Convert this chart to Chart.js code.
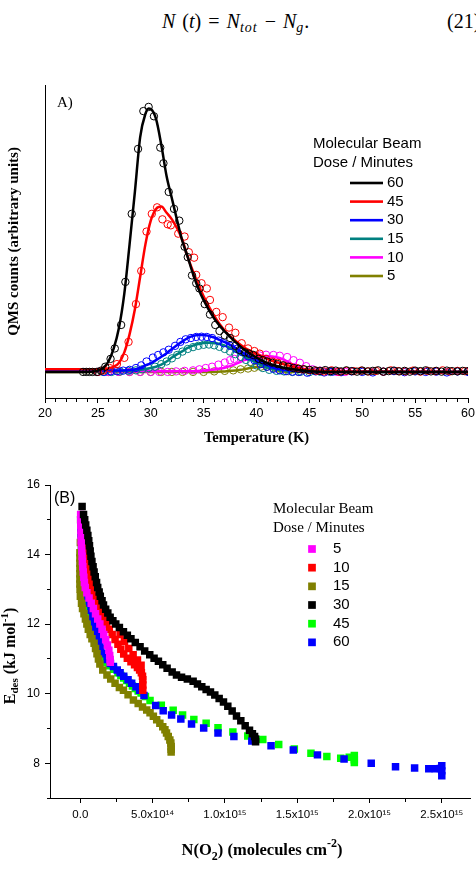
<!DOCTYPE html>
<html>
<head>
<meta charset="utf-8">
<title>O2 desorption from the molecular beam doses</title>
<script src="https://cdn.jsdelivr.net/npm/chart.js"></script>
<style>
  html, body { margin: 0; padding: 0; background: #fff; }
  body { width: 476px; height: 870px; position: relative; overflow: hidden; }
  #eq { position: absolute; left: 162px; top: 11px; font: italic 20px "Liberation Serif", "Times New Roman", serif;
        line-height: 20px; word-spacing: 2px; white-space: nowrap; }
  #eq .up { font-style: normal; }
  #eq sub { font-size: 14px; letter-spacing: 1px; vertical-align: -4px; line-height: 0; }
  #eqnum { position: absolute; left: 447px; top: 11px; font: 20px "Liberation Serif", "Times New Roman", serif; line-height: 20px; white-space: nowrap; }
  canvas { position: absolute; left: 0; }
  #chartA { top: 55px; }
  #chartB { top: 455px; }
</style>
</head>
<body>
<div id="eq"><i>N</i> <span class="up">(</span><i>t</i><span class="up">) = </span><i>N</i><sub>tot</sub> <span class="up">&minus;</span> <i>N</i><sub>g</sub><span class="up">.</span></div>
<div id="eqnum">(21)</div>
<canvas id="chartA" width="476" height="400"></canvas>
<canvas id="chartB" width="476" height="415"></canvas>

<script>
// ---------- panel A : QMS counts vs temperature (circles = data, lines = fits)
const dosesA = ['60', '45', '30', '15', '10', '5'];
const colorsA = ['#000000', '#ff0000', '#0000ff', '#008080', '#ff00ff', '#808000'];

// measured points (K, arbitrary units)
const t60 = [23.6,23.9,24.2,24.5,24.9,25.3,25.7,26.2,26.6,27.2,27.6,28.2,28.8,29.3,29.8,30.3,30.9,31.2,31.7,32.2,32.7,33.2,33.5,33.9,34.3,34.6,35.1,35.6,36.1,36.5,37.0,37.5,38.0,38.4,38.9,39.3,39.7,40.2,40.6,41.0,41.5,42.0,42.5,43.0,43.5,44.0,44.5,45.0,
  45.5,46.0,46.5,47.0,47.5,48.0,48.5,49.0,49.5,50.0,50.5,51.0,51.5,52.0,52.5,53.0,53.5,54.0,54.5,55.0,55.5,56.0,56.5,57.0,57.5,58.0,58.5,59.0,59.5,60.0];
const c60 = [0,0,0,0,0,0.005,0.02,0.05,0.09,0.18,0.345,0.606,0.855,1.0,1.016,0.98,0.86,0.80,0.69,0.625,0.58,0.48,0.44,0.37,0.34,0.32,0.26,0.22,0.18,0.157,0.14,0.13,0.10,0.084,0.075,0.07,0.065,0.05,0.045,0.04,0.035,0.03,0.025,0.02,0.015,0.012,0.01,0.008,
  0.006,0.004,0.007,0.003,0.005,0.002,0.006,0.003,0.001,0.005,0.002,0.004,0.006,0.001,0.003,0.005,0.002,0.004,0.001,0.005,0.003,0.006,0.002,0.004,0.001,0.005,0.003,0.002,0.004,0.003];

const t45 = [25.0,25.5,26.1,26.8,27.5,27.9,28.6,29.1,29.6,30.1,30.6,31.1,31.6,31.9,32.6,33.2,33.6,34.1,34.3,34.8,35.3,35.6,36.2,36.8,37.4,38.0,38.6,39.2,39.8,40.3,40.9,41.5,42.0,42.6,43.2,43.8,44.4,45.0,
  45.7,46.4,47.1,47.8,48.5,49.2,49.9,50.6,51.3,52.0,52.7,53.4,54.1,54.8,55.5,56.2,56.9,57.6,58.3,59.0,59.7];
const c45 = [0.0,0.005,0.015,0.03,0.054,0.115,0.26,0.387,0.538,0.606,0.631,0.585,0.566,0.562,0.53,0.519,0.459,0.438,0.372,0.34,0.32,0.276,0.23,0.21,0.17,0.15,0.11,0.09,0.08,0.07,0.05,0.04,0.035,0.025,0.02,0.015,0.01,0.006,
  0.004,0.002,0.006,0.001,0.004,0.003,0.005,0.002,0.004,0.001,0.006,0.003,0.002,0.005,0.001,0.004,0.003,0.006,0.002,0.004,0.003];

const t30 = [25.0,25.6,26.2,26.8,27.4,28.0,28.6,29.1,29.6,30.2,30.7,31.2,31.7,32.3,32.8,33.3,33.8,34.3,34.8,35.3,35.8,36.4,36.9,37.5,38.1,38.6,39.2,39.8,40.4,41.0,41.6,42.2,42.8,43.4,44.0,44.8,45.6,46.4,47.2,48.0,49,50,51,52,53,54,55,56,57,58,59,60];
const c30 = [0,0,0.002,0.003,0.005,0.008,0.015,0.025,0.04,0.055,0.065,0.075,0.085,0.1,0.115,0.125,0.13,0.134,0.135,0.134,0.13,0.12,0.11,0.10,0.088,0.077,0.06,0.045,0.03,0.02,0.012,0.006,0.003,0.001,0,-0.003,0.002,-0.002,0.001,-0.001,0.002,0,-0.002,0.001,0.003,-0.001,0.002,0,0.001,-0.002,0.002,0];

const t15 = [25.5,26.3,27.1,27.9,28.6,29.2,29.8,30.4,31.0,31.5,32.0,32.5,33.0,33.5,34.0,34.5,35.0,35.5,36.0,36.5,37.0,37.5,38.0,38.5,39.0,39.5,40.0,40.6,41.2,41.9,42.6,43.4,44.2,45.0,46.0,47.0];
const c15 = [0,0,0.002,0.004,0.006,0.01,0.015,0.02,0.03,0.04,0.052,0.065,0.078,0.088,0.095,0.1,0.104,0.105,0.102,0.096,0.088,0.078,0.068,0.058,0.046,0.035,0.025,0.015,0.008,0.004,0.002,0,0.001,-0.001,0.001,0];

const t10 = [26.0,27.0,28.0,29.0,30.0,30.8,31.6,32.4,33.2,34.0,34.6,35.2,35.8,36.4,37.0,37.5,37.9,38.6,39.1,39.7,40.3,40.9,41.6,42.2,42.9,43.5,44.1,44.7,45.3,46.0,46.8,47.6,48.4];
const c10 = [0,0,0,0,0,0,0,0.002,0.004,0.006,0.01,0.015,0.02,0.028,0.036,0.045,0.05,0.055,0.058,0.06,0.063,0.066,0.065,0.062,0.057,0.045,0.035,0.022,0.01,0.005,0.002,0,0];

const t5 = [26.0,27.0,28.0,29.0,30.0,31.0,32.0,33.0,34.0,35.0,36.0,37.0,37.8,38.5,39.2,39.8,40.4,41.0,41.6,42.2,43.0,44.0];
const c5 = [0,0,0,0,0,0,0,0,0,0,0.002,0.004,0.006,0.01,0.013,0.016,0.02,0.02,0.015,0.008,0.003,0];

// fitted curves
const ft60 = [20,24,25,25.5,26,26.5,27,27.5,28,28.5,29,29.5,29.8,30,30.5,31,31.5,32,32.5,33,33.5,34,34.5,35,36,37,38,39,40,41,42,43,44,45,47,50,60];
const f60 = [0,0,0.005,0.015,0.04,0.09,0.17,0.3,0.49,0.69,0.9,0.99,1.01,1.008,0.97,0.87,0.75,0.665,0.58,0.5,0.44,0.375,0.32,0.275,0.205,0.155,0.115,0.08,0.055,0.035,0.022,0.013,0.007,0.003,0,0,0];
const ft45 = [20,25,26,26.5,27,27.5,28,28.5,29,29.5,30,30.5,31,31.5,32,32.5,33,33.5,34,34.5,35,36,37,38,39,40,41,42,43,44,45,46,48,60];
const f45 = [0.01,0.01,0.013,0.02,0.035,0.075,0.145,0.24,0.365,0.49,0.58,0.625,0.634,0.61,0.585,0.55,0.505,0.44,0.385,0.335,0.29,0.215,0.158,0.12,0.09,0.07,0.05,0.036,0.025,0.014,0.007,0.004,0.002,0];
const ft30 = [20,27,28.3,29,29.5,30,30.5,31,31.5,32,32.5,33,33.5,34,34.5,35,35.5,36,36.5,37,37.5,38,38.5,39,39.5,40,40.5,41,41.5,42,43,44,46,60];
const f30 = [0.005,0.005,0.008,0.015,0.025,0.033,0.045,0.058,0.072,0.088,0.103,0.117,0.13,0.138,0.142,0.142,0.138,0.132,0.123,0.114,0.104,0.092,0.079,0.067,0.055,0.044,0.035,0.026,0.018,0.012,0.006,0.003,0.001,0];
const ft15 = [20,28,29,29.5,30,30.5,31,31.5,32,32.5,33,33.5,34,34.5,35,35.5,36,36.5,37,37.5,38,38.5,39,39.5,40,40.5,41,41.5,42,43,45,60];
const f15 = [0.003,0.004,0.008,0.011,0.015,0.02,0.028,0.04,0.055,0.068,0.08,0.092,0.101,0.107,0.111,0.112,0.11,0.107,0.101,0.092,0.08,0.068,0.056,0.045,0.035,0.025,0.018,0.012,0.008,0.004,0.001,0];
const ft10 = [20,34,35,36,36.5,37,37.5,38,38.5,39,39.5,40,40.5,41,41.5,42,42.5,43,43.5,44,44.5,45,46,60];
const f10 = [0.003,0.003,0.005,0.009,0.012,0.016,0.022,0.03,0.039,0.047,0.053,0.058,0.061,0.061,0.059,0.055,0.048,0.038,0.027,0.018,0.011,0.006,0.002,0];
const ft5 = [20,36,37,38,38.5,39,39.5,40,40.5,41,41.5,42,42.5,43,60];
const f5 = [0,0,0.002,0.005,0.008,0.012,0.016,0.019,0.02,0.018,0.012,0.005,0.002,0,0];

// ---------- panel B : desorption energy vs coverage (N in units of 1e14 molecules cm-2)
const dosesB = ['5', '10', '15', '30', '45', '60'];
const colorsB = ['#ff00ff', '#ff0000', '#808000', '#000000', '#00ff00', '#0000ff'];

const n5 = [0.02,0.02,0.03,0.04,0.05,0.06,0.08,0.1,0.12,0.14,0.17,0.2,0.24,0.28,0.34,0.45,0.6,0.75,0.9,1.05,1.2,1.35,1.5,1.62,1.75,1.87,1.97,2.03,2.06,2.07];
const e5 = [15.15,15.0,14.85,14.7,14.55,14.4,14.25,14.1,13.95,13.8,13.65,13.5,13.35,13.2,13.05,12.9,12.75,12.6,12.45,12.3,12.15,12.0,11.85,11.7,11.55,11.4,11.25,11.1,10.98,10.9];

const n10 = [0.1,0.15,0.2,0.25,0.3,0.36,0.42,0.5,0.58,0.68,0.8,0.95,1.12,1.3,1.48,1.65,1.8,2.0,2.2,2.4,2.6,2.8,3.0,3.25,3.5,3.75,3.95,4.1,4.22,4.3,4.32,4.32,4.32,
  2.75,3.05,3.35,3.65,3.95,4.2];
const e10 = [15.0,14.8,14.6,14.4,14.2,14.0,13.8,13.6,13.4,13.2,13.0,12.8,12.63,12.47,12.3,12.15,12.0,11.85,11.7,11.56,11.42,11.28,11.14,11.02,10.92,10.83,10.75,10.68,10.6,10.5,10.4,10.25,10.1,
  11.7,11.5,11.3,11.12,10.97,10.82];

const n15 = [0.0,-0.03,-0.03,-0.03,-0.03,-0.03,-0.03,-0.03,-0.02,0.0,0.08,0.15,0.25,0.35,0.45,0.55,0.68,0.8,0.95,1.05,1.15,1.25,1.35,1.55,1.84,2.1,2.4,2.7,2.98,3.3,3.67,4.0,4.3,4.59,4.82,5.05,5.28,5.5,5.7,5.85,5.96,6.08,6.19,6.26,6.28,6.28,6.28];
const e15 = [14.35,14.05,13.9,13.75,13.6,13.45,13.3,13.15,13.0,12.8,12.6,12.45,12.3,12.15,12.0,11.85,11.7,11.58,11.45,11.3,11.15,11.0,10.85,10.68,10.54,10.42,10.3,10.18,10.1,9.97,9.82,9.72,9.62,9.53,9.45,9.35,9.25,9.15,9.05,8.96,8.87,8.77,8.67,8.58,8.48,8.4,8.32];

const n30 = [0.12,0.22,0.3,0.37,0.45,0.52,0.58,0.63,0.68,0.73,0.8,0.88,0.95,1.03,1.12,1.2,1.3,1.38,1.5,1.6,1.75,1.9,2.06,2.25,2.45,2.7,2.98,3.25,3.5,3.8,4.13,4.45,4.8,5.1,5.4,5.7,6.0,6.35,6.65,7.0,7.4,7.8,8.1,8.4,8.7,9.0,9.3,9.6,9.9,10.2,10.5,10.8,11.1,11.4,11.7,11.9,12.05,12.12,12.12];
const e30 = [15.38,15.15,15.0,14.85,14.7,14.55,14.4,14.25,14.1,13.95,13.8,13.65,13.5,13.36,13.2,13.05,12.92,12.8,12.67,12.55,12.43,12.32,12.2,12.1,12.0,11.9,11.78,11.68,11.58,11.47,11.35,11.23,11.12,11.02,10.93,10.83,10.73,10.62,10.54,10.47,10.42,10.36,10.28,10.2,10.12,10.05,9.96,9.86,9.76,9.64,9.5,9.36,9.22,9.08,8.95,8.85,8.77,8.7,8.62];

const n45 = [0.02,0.03,0.04,0.05,0.07,0.1,0.13,0.17,0.22,0.28,0.35,0.42,0.5,0.6,0.7,0.8,0.92,1.05,1.15,1.3,1.55,1.78,2.0,2.3,2.6,2.8,3.0,3.2,3.4,3.6,3.8,4.0,4.2,4.5,
  4.82,5.6,6.42,7.07,7.85,8.7,9.52,10.55,11.58,12.62,13.72,14.8,15.95,17.05,18.01,18.6,18.95,18.95,18.95];
const e45 = [15.0,14.8,14.6,14.4,14.2,14.0,13.8,13.6,13.4,13.2,13.0,12.8,12.6,12.4,12.2,12.0,11.8,11.6,11.4,11.2,11.0,10.9,10.8,10.7,10.6,10.52,10.45,10.38,10.3,10.22,10.15,10.08,10.02,9.92,
  9.8,9.67,9.52,9.39,9.26,9.15,9.02,8.9,8.78,8.68,8.54,8.41,8.29,8.19,8.14,8.17,8.22,8.1,8.02];

const n60 = [0.03,0.04,0.05,0.07,0.09,0.12,0.16,0.2,0.26,0.33,0.42,0.52,0.62,0.73,0.85,0.97,1.07,1.15,1.25,1.35,1.42,1.55,1.85,2.08,2.29,2.55,2.75,3.0,3.3,3.55,3.85,4.1,4.4,
  5.21,5.73,6.31,6.95,7.69,8.53,9.52,10.62,11.86,13.19,14.73,16.4,18.24,20.12,21.8,23.12,24.1,24.55,24.9,25.0,25.0,25.0];
const e60 = [15.0,14.8,14.6,14.4,14.2,14.0,13.8,13.6,13.4,13.2,13.0,12.8,12.6,12.4,12.2,12.0,11.85,11.74,11.6,11.45,11.3,11.15,10.98,10.87,10.78,10.68,10.6,10.5,10.4,10.3,10.2,10.1,9.95,
  9.66,9.51,9.39,9.27,9.13,9.01,8.87,8.77,8.64,8.5,8.38,8.24,8.12,8.0,7.9,7.86,7.84,7.84,7.85,7.93,7.78,7.64];

const serif = '"Liberation Serif", "Times New Roman", serif';
const sans = '"Liberation Sans", Arial, sans-serif';

Chart.defaults.color = '#000';
Chart.defaults.font.family = sans;

const pts = (xs, ys) => xs.map((x, i) => ({ x: x, y: ys[i] }));

function drawRich(ctx, r) {
  ctx.save();
  ctx.textAlign = 'left';
  ctx.textBaseline = 'alphabetic';
  let w = 0;
  r.parts.forEach(p => { ctx.font = p.font; w += ctx.measureText(p.text).width; });
  ctx.translate(r.x, r.y);
  if (r.rotate) ctx.rotate(-Math.PI / 2);
  let x = -w / 2;
  r.parts.forEach(p => {
    ctx.font = p.font;
    ctx.fillText(p.text, x, p.dy || 0);
    x += ctx.measureText(p.text).width;
  });
  ctx.restore();
}

// panel labels, in-plot legends and rich axis titles
const annotate = {
  id: 'annotate',
  afterDraw(chart, args, opts) {
    const ctx = chart.ctx;
    ctx.save();
    ctx.textBaseline = 'middle';
    ctx.textAlign = 'left';
    (opts.texts || []).forEach(t => {
      ctx.fillStyle = '#000';
      ctx.font = t.font;
      ctx.fillText(t.text, t.x, t.y);
    });
    const lg = opts.legend;
    if (lg) {
      lg.labels.forEach((lab, i) => {
        const y = lg.y + i * lg.step;
        ctx.fillStyle = lg.colors[i];
        if (lg.kind === 'line') ctx.fillRect(lg.x, y - 1.3, lg.w, 2.6);
        else ctx.fillRect(lg.x - lg.w / 2, y - lg.w / 2, lg.w, lg.w);
        ctx.fillStyle = '#000';
        ctx.font = lg.font;
        ctx.fillText(lab, lg.tx, y);
      });
    }
    ctx.fillStyle = '#000';
    (opts.rich || []).forEach(r => drawRich(ctx, r));
    ctx.restore();
  }
};

// ---------- chart A
const circlesA = [[t60, c60], [t45, c45], [t30, c30], [t15, c15], [t10, c10], [t5, c5]];
const fitsA = [[ft60, f60], [ft45, f45], [ft30, f30], [ft15, f15], [ft10, f10], [ft5, f5]];
const datasetsA = [];
dosesA.forEach((dose, i) => {
  datasetsA.push({
    label: dose + ' fit', data: pts(fitsA[i][0], fitsA[i][1]),
    showLine: true, pointRadius: 0, borderColor: colorsA[i], borderWidth: 2.5,
    cubicInterpolationMode: 'monotone', order: 2 * i
  });
  datasetsA.push({
    label: dose, data: pts(circlesA[i][0], circlesA[i][1]),
    showLine: false, pointRadius: 3.7, pointBorderWidth: 1,
    pointBorderColor: colorsA[i], pointBackgroundColor: 'rgba(0,0,0,0)', order: 2 * i + 1
  });
});

new Chart(document.getElementById('chartA'), {
  type: 'scatter',
  data: { datasets: datasetsA },
  options: {
    responsive: false, animation: false, events: [], devicePixelRatio: 1,
    layout: { padding: { left: 0, right: 8, top: 30, bottom: 0 } },
    scales: {
      x: {
        type: 'linear', min: 20, max: 60,
        afterFit(s) { s.height = 57; s.paddingLeft = 0; s.paddingRight = 0; },
        ticks: { stepSize: 1, autoSkip: false, maxRotation: 0, padding: 3, font: { size: 12.5 },
          callback: v => (v % 5 === 0 ? String(v) : '') },
        grid: { drawOnChartArea: false, tickLength: 5, tickColor: '#000', tickWidth: 1,
          tickBorderDash: c => (c.tick && c.tick.value % 5 !== 0 ? [3, 10] : []) },
        border: { display: true, color: '#000', width: 1 },
        title: { display: true, text: 'Temperature (K)', color: '#000',
          font: { family: serif, size: 14.5, weight: 'bold' }, padding: { top: 0, bottom: 8 } }
      },
      y: {
        type: 'linear', min: -0.1, max: 1.1,
        afterFit(s) { s.width = 45; s.paddingTop = 0; s.paddingBottom = 0; },
        ticks: { display: false },
        grid: { display: false },
        border: { display: true, color: '#000', width: 1 },
        title: { display: true, text: 'QMS counts (arbitrary units)', color: '#000',
          font: { family: serif, size: 15, weight: 'bold' }, padding: { top: 5, bottom: 0 } }
      }
    },
    plugins: {
      legend: { display: false },
      tooltip: { enabled: false },
      annotate: {
        texts: [
          { text: 'A)', x: 57, y: 48, font: '15px ' + serif },
          { text: 'Molecular Beam', x: 313, y: 89, font: '15px ' + sans },
          { text: 'Dose / Minutes', x: 313, y: 107.7, font: '15px ' + sans }
        ],
        legend: { kind: 'line', labels: dosesA, colors: colorsA, x: 350, w: 33, tx: 387, y: 128, step: 18.6, font: '15px ' + sans }
      }
    }
  },
  plugins: [annotate]
});

// ---------- chart B
const seriesB = [[n5, e5], [n10, e10], [n15, e15], [n30, e30], [n45, e45], [n60, e60]];
const drawOrderB = [2, 3, 4, 1, 6, 5];
const supDigits = { '0': '⁰', '1': '¹', '2': '²', '3': '³', '4': '⁴', '5': '⁵', '6': '⁶', '7': '⁷', '8': '⁸', '9': '⁹' };
function fmtN(v) {
  if (v % 5 !== 0) return '';
  if (v === 0) return '0.0';
  const n = v * 1e14;
  const e = Math.floor(Math.log10(n) + 1e-9);
  const m = n / Math.pow(10, e);
  return m.toFixed(1) + 'x10' + String(e).split('').map(d => supDigits[d]).join('');
}

new Chart(document.getElementById('chartB'), {
  type: 'scatter',
  data: {
    datasets: dosesB.map((dose, i) => ({
      label: dose, data: pts(seriesB[i][0], seriesB[i][1]),
      showLine: false, pointStyle: 'rect', pointRadius: 5.3, pointBorderWidth: 0,
      pointBackgroundColor: colorsB[i], pointBorderColor: colorsB[i], order: drawOrderB[i]
    }))
  },
  options: {
    responsive: false, animation: false, events: [], devicePixelRatio: 1,
    layout: { padding: { left: 0, right: 3, top: 30, bottom: 0 } },
    scales: {
      x: {
        type: 'linear', min: -2.1, max: 27,
        afterFit(s) { s.height = 72; s.paddingLeft = 0; s.paddingRight = 0; },
        ticks: { stepSize: 2.5, includeBounds: false, autoSkip: false, maxRotation: 0, padding: 5,
          font: { size: 11.5 }, callback: fmtN },
        grid: { drawOnChartArea: false, tickLength: 5, tickColor: '#000', tickWidth: 1,
          tickBorderDash: c => (c.tick && c.tick.value % 5 !== 0 ? [3, 10] : []) },
        border: { display: true, color: '#000', width: 1 },
        title: { display: false }
      },
      y: {
        type: 'linear', min: 7, max: 16,
        afterFit(s) { s.width = 50; s.paddingTop = 0; s.paddingBottom = 0; },
        ticks: { stepSize: 1, autoSkip: false, padding: 5, font: { size: 12 },
          callback: v => (v % 2 === 0 ? String(v) : '') },
        grid: { drawOnChartArea: false, tickLength: 5, tickColor: '#000', tickWidth: 1,
          tickBorderDash: c => (c.tick && c.tick.value % 2 !== 0 ? [0, 2, 3, 10] : []) },
        border: { display: true, color: '#000', width: 1 },
        title: { display: false }
      }
    },
    plugins: {
      legend: { display: false },
      tooltip: { enabled: false },
      annotate: {
        texts: [
          { text: '(B)', x: 54, y: 44, font: '16px ' + sans },
          { text: 'Molecular Beam', x: 273, y: 54.3, font: '15px ' + serif },
          { text: 'Dose / Minutes', x: 273, y: 73.3, font: '15px ' + serif }
        ],
        legend: { kind: 'square', labels: dosesB, colors: colorsB, x: 312, w: 7.7, tx: 333, y: 94, step: 18.67, font: '15px ' + sans },
        rich: [
          { x: 15, y: 201, rotate: true, parts: [
            { text: 'E', font: 'bold 16px ' + serif },
            { text: 'des', font: 'bold 11px ' + serif, dy: 3 },
            { text: ' (kJ mol', font: 'bold 16px ' + serif },
            { text: '-1', font: 'bold 11px ' + serif, dy: -7 },
            { text: ')', font: 'bold 16px ' + serif }
          ] },
          { x: 262, y: 400, parts: [
            { text: 'N(O', font: 'bold 16.5px ' + serif },
            { text: '2', font: 'bold 12px ' + serif, dy: 5 },
            { text: ') (molecules cm', font: 'bold 16.5px ' + serif },
            { text: '-2', font: 'bold 12px ' + serif, dy: -8 },
            { text: ')', font: 'bold 16.5px ' + serif }
          ] }
        ]
      }
    }
  },
  plugins: [annotate]
});
</script>
</body>
</html>
